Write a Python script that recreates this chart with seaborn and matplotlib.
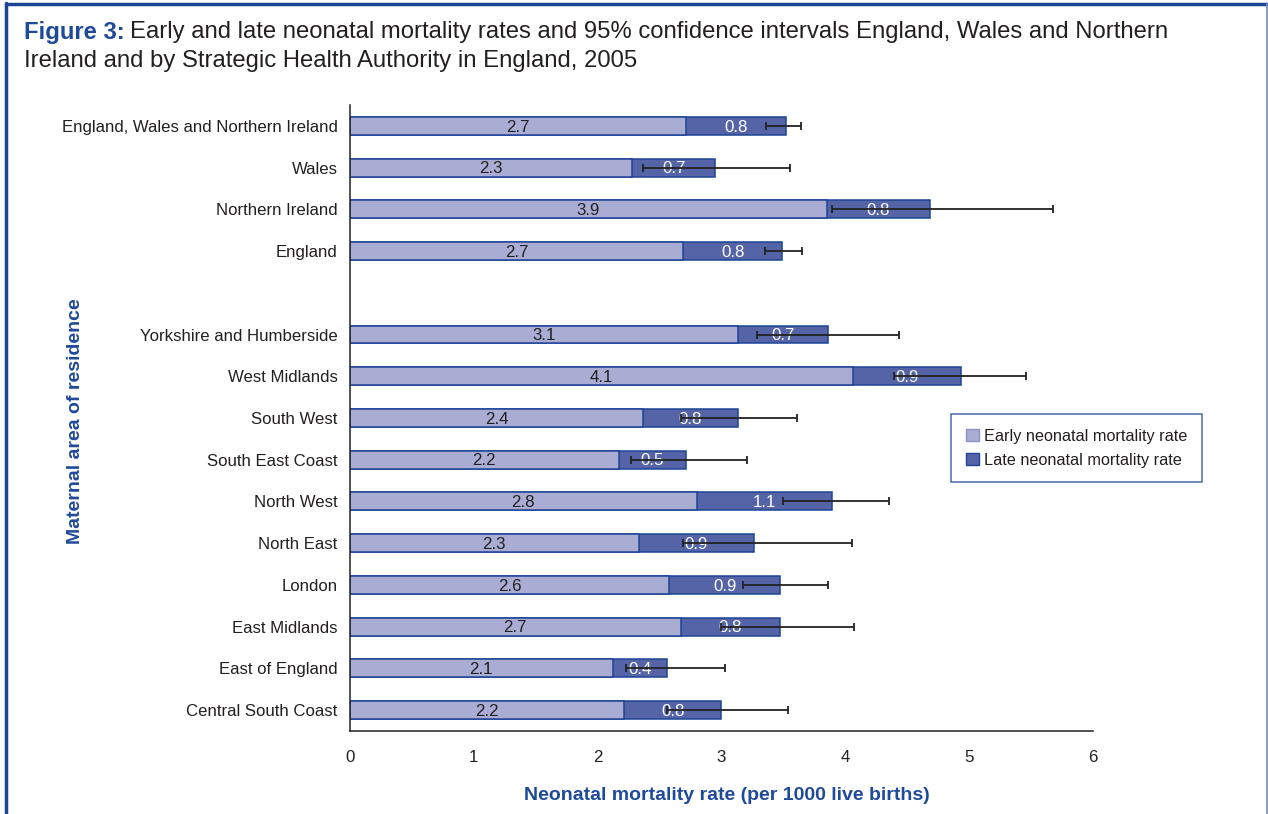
import matplotlib
matplotlib.use("Agg")
import matplotlib.pyplot as plt
from matplotlib.patches import Patch
from matplotlib.lines import Line2D
from matplotlib.ticker import FixedLocator
import pandas as pd
import seaborn as sns

# values (rates per 1000 live births)
regions = ["England, Wales and Northern Ireland", "Wales", "Northern Ireland", "England",
           "Yorkshire and Humberside", "West Midlands", "South West", "South East Coast",
           "North West", "North East", "London", "East Midlands", "East of England",
           "Central South Coast"]
early = [2.71, 2.28, 3.85, 2.69, 3.13, 4.06, 2.37, 2.17, 2.80, 2.33, 2.58, 2.67, 2.12, 2.21]
late = [0.81, 0.67, 0.83, 0.80, 0.73, 0.87, 0.76, 0.54, 1.09, 0.93, 0.89, 0.80, 0.44, 0.79]
ci_low = [3.36, 2.37, 3.89, 3.35, 3.29, 4.39, 2.67, 2.27, 3.50, 2.69, 3.17, 3.00, 2.23, 2.56]
ci_high = [3.64, 3.55, 5.68, 3.65, 4.43, 5.46, 3.61, 3.21, 4.35, 4.05, 3.86, 4.07, 3.03, 3.54]

# blank slot separates the national rows from the SHAs
order = regions[:4] + [" "] + regions[4:]

EARLY_C = "#a9acd3"
LATE_C = "#5564a6"
EDGE_C = "#1e4496"
BLUE = "#1f4a9a"
TEXT_C = "#231f20"

df = pd.DataFrame({"region": regions, "early": early, "late": late})
df["total"] = df["early"] + df["late"]

sns.set_style("white")
plt.rcParams["font.family"] = ["Liberation Sans", "DejaVu Sans"]

fig = plt.figure(figsize=(12.68, 8.14), dpi=100)
ax = fig.add_axes([0.276, 0.102, 0.586, 0.769])

sns.barplot(data=df, x="total", y="region", order=order, orient="h", color=LATE_C,
            saturation=1, width=0.43, edgecolor=EDGE_C, linewidth=1.1, errorbar=None, ax=ax)
sns.barplot(data=df, x="early", y="region", order=order, orient="h", color=EARLY_C,
            saturation=1, width=0.43, edgecolor=EDGE_C, linewidth=1.1, errorbar=None, ax=ax)

ypos = [order.index(r) for r in regions]
totals = df["total"].tolist()
xerr = [[t - lo for t, lo in zip(totals, ci_low)], [hi - t for t, hi in zip(totals, ci_high)]]

for y, e, l in zip(ypos, early, late):
    ax.text(e / 2, y + 0.03, f"{e:.1f}", ha="center", va="center", fontsize=12.2, color=TEXT_C)
    ax.text(e + l / 2, y + 0.03, f"{l:.1f}", ha="center", va="center", fontsize=12.2, color="white")

ax.errorbar(totals, ypos, xerr=xerr, fmt="none", ecolor="#222222", elinewidth=1.3,
            capsize=3, capthick=1.3, zorder=5)

ax.set_xlim(0, 6)
ax.set_ylim(len(order) - 0.5, -0.5)
ax.set_xticks(range(0, 7))
ax.tick_params(axis="x", labelsize=12.2, labelcolor=TEXT_C, length=5, width=1.1,
               direction="out", pad=9, color="#222222")
ax.tick_params(axis="y", which="major", length=0, labelsize=12.1, labelcolor=TEXT_C, pad=9)
ax.yaxis.set_minor_locator(FixedLocator([i - 0.5 for i in range(len(order) + 1)]))
ax.tick_params(axis="y", which="minor", length=5, width=1.1, direction="out", color="#222222")

sns.despine(ax=ax)
for s in ["left", "bottom"]:
    ax.spines[s].set_color("#222222")
    ax.spines[s].set_linewidth(1.1)

ax.set_xlabel("")
ax.set_ylabel("")
fig.text(727 / 1268, 1 - 795 / 814, "Neonatal mortality rate (per 1000 live births)",
         ha="center", va="center", fontsize=14, fontweight="bold", color=BLUE)
fig.text(75 / 1268, 1 - 421 / 814, "Maternal area of residence", rotation=90, ha="center",
         va="center", fontsize=14, fontweight="bold", color=BLUE)

handles = [Patch(facecolor=EARLY_C, edgecolor="#8e92c4", label="Early neonatal mortality rate"),
           Patch(facecolor=LATE_C, edgecolor=EDGE_C, label="Late neonatal mortality rate")]
leg = ax.legend(handles=handles, loc="upper left", bbox_to_anchor=(0.809, 0.5064),
                fontsize=11.7, frameon=True, fancybox=False, handlelength=0.8,
                handleheight=0.8, handletextpad=0.35, borderpad=0.9, labelspacing=0.55,
                borderaxespad=0)
leg.get_frame().set_edgecolor(EDGE_C)
leg.get_frame().set_linewidth(1.1)
for t in leg.get_texts():
    t.set_color(TEXT_C)

# title: bold blue prefix followed by normal text
t1 = fig.text(24 / 1268, 1 - 32 / 814, "Figure 3:", fontsize=17.2, fontweight="bold",
              color=BLUE, va="center", ha="left")
fig.canvas.draw()
bb = t1.get_window_extent(renderer=fig.canvas.get_renderer())
fig.text((bb.x1 + 5) / 1268, 1 - 32 / 814,
         "Early and late neonatal mortality rates and 95% confidence intervals England, Wales and Northern",
         fontsize=17.2, color=TEXT_C, va="center", ha="left")
fig.text(24 / 1268, 1 - 61 / 814,
         "Ireland and by Strategic Health Authority in England, 2005",
         fontsize=17.2, color=TEXT_C, va="center", ha="left")

# blue page frame
fig.add_artist(Line2D([6 / 1268, 6 / 1268], [0, 1 - 3 / 814], transform=fig.transFigure,
                      color=EDGE_C, linewidth=2.5))
fig.add_artist(Line2D([6 / 1268, 1266 / 1268], [1 - 3.5 / 814, 1 - 3.5 / 814],
                      transform=fig.transFigure, color=EDGE_C, linewidth=2.5))
fig.add_artist(Line2D([1266.5 / 1268, 1266.5 / 1268], [0, 1 - 3 / 814], transform=fig.transFigure,
                      color="#7088bf", linewidth=1.2))

fig.savefig("out.png", dpi=100)
